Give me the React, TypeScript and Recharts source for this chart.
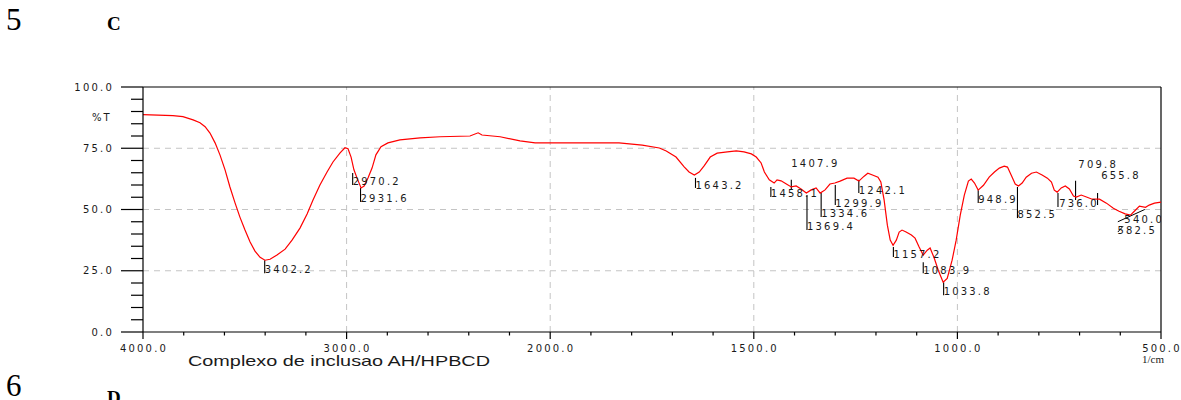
import React from 'react';
import { ComposedChart, Line, Scatter, XAxis, YAxis, ReferenceLine } from 'recharts';

// ---- spectrum (wavenumber, %T) ----
const wavenumbers = [
  4000, 3853, 3804, 3754, 3720, 3695, 3671, 3646, 3622, 3597, 3573, 3548, 3524, 3499, 3474, 3450, 3425, 3401,
  3376, 3342, 3302, 3268, 3229, 3194, 3165, 3131, 3096, 3067, 3032, 3008, 2993, 2978, 2964, 2949, 2929, 2914,
  2895, 2875, 2856, 2831, 2797, 2738, 2639, 2541, 2394, 2354, 2335, 2246, 2148, 2074, 2000, 1880, 1831, 1774,
  1732, 1715, 1691, 1671, 1659, 1646, 1634, 1622, 1607, 1590, 1565, 1543, 1524, 1506, 1494, 1482, 1474, 1462,
  1450, 1443, 1433, 1420, 1408, 1396, 1384, 1371, 1359, 1347, 1337, 1325, 1313, 1301, 1288, 1271, 1254, 1242,
  1229, 1220, 1207, 1195, 1188, 1180, 1172, 1165, 1158, 1150, 1143, 1136, 1126, 1113, 1104, 1094, 1084, 1074,
  1067, 1057, 1047, 1035, 1025, 1013, 1003, 993, 983, 973, 966, 958, 949, 936, 922, 909, 897, 885, 877, 868,
  858, 850, 841, 831, 818, 806, 792, 779, 769, 762, 755, 745, 735, 725, 715, 708, 696, 683, 669, 651, 634, 617,
  603, 588, 575, 563, 553, 538, 529, 516, 500,
];
const transmittance = [
  88.7, 88.3, 87.9, 86.6, 85.4, 83.8, 81.2, 77.2, 72.3, 66.2, 59.2, 52.7, 46.9, 41.6, 36.7, 33.0, 30.5, 29.3,
  29.7, 31.4, 33.8, 37.5, 42.4, 48.2, 53.9, 60.0, 65.3, 69.4, 73.1, 75.2, 74.8, 71.4, 66.2, 62.9, 58.8, 59.6,
  62.9, 66.9, 72.3, 75.6, 77.2, 78.4, 79.2, 79.7, 80.0, 81.3, 80.4, 79.7, 78.0, 77.2, 77.2, 77.2, 77.2, 76.3,
  75.1, 73.9, 71.4, 67.4, 65.3, 64.1, 65.3, 67.8, 71.4, 73.0, 73.5, 73.9, 73.5, 72.7, 71.4, 69.0, 65.3, 62.1,
  60.8, 62.1, 61.7, 60.4, 59.2, 59.6, 58.4, 56.7, 58.0, 58.8, 56.7, 58.0, 60.4, 60.8, 61.6, 62.8, 62.8, 61.6,
  63.6, 64.8, 64.0, 63.2, 61.2, 53.9, 43.6, 37.5, 35.4, 37.5, 40.8, 41.6, 40.8, 39.6, 38.3, 34.7, 31.4, 33.4,
  34.3, 30.2, 25.2, 20.3, 21.9, 29.3, 37.5, 47.7, 55.9, 61.6, 62.4, 60.8, 57.9, 59.9, 63.2, 65.3, 66.9, 67.7, 67.3, 64.1,
  60.4, 59.6, 60.8, 63.2, 64.8, 65.3, 64.1, 62.8, 61.2, 57.9, 57.1, 58.8, 59.6, 58.4, 55.5, 55.1, 55.9, 55.1, 54.2, 54.2, 52.6, 50.5,
  49.3, 48.2, 47.7, 49.7, 51.4, 50.9, 51.8, 52.6, 53.0,
];

// ---- peak annotations ----
const peakLabels = ['3402.2', '2970.2', '2931.6', '1643.2', '1458.1', '1407.9', '1369.4', '1334.6', '1299.9', '1242.1',
  '1157.2', '1083.9', '1033.8', '948.9', '852.5', '736.0', '709.8', '655.8', '540.0', '582.5'];
const peakLineW = [3402.2, 2970.2, 2931.6, 1643.2, 1458.1, 1407.9, 1369.4, 1334.6, 1299.9, 1242.1,
  1157.2, 1083.9, 1033.8, 948.9, 852.5, 753, 709.8, 655.8, null, null];
const peakLineTop = [29.3, 64.9, 58.8, 62.9, 59.2, 62.1, 55.9, 56.7, 60.0, 62.1, 34.7, 28.5, 20.3, 57.9, 59.2, 56.7, 61.7, 56.7, null, null];
const peakLineBottom = [24.0, 60.0, 53.1, 58.8, 55.1, 58.0, 41.6, 46.9, 51.8, 56.7, 30.6, 24.0, 15.0, 52.7, 46.5, 51.0, 53.9, 51.8, null, null];
const peakTextW = [3402.2, 2970.2, 2931.6, 1643.2, 1458.1, 1407.9, 1369.4, 1334.6, 1299.9, 1242.1,
  1157.2, 1083.9, 1033.8, 948.9, 852.5, 750, 703, 647, 590, 607];
const peakTextT = [25.4, 61.3, 54.3, 60.0, 56.7, 68.6, 43.2, 48.2, 52.6, 57.6, 31.8, 25.3, 16.7, 53.9, 47.8, 52.6, 68.2, 63.7, 46.1, 41.6];

// slanted leader lines (540.0, 582.5)
const slantFromW = [540, 593];
const slantFromT = [50.0, 43.2];
const slantToW = [606, 606];
const slantToT = [45.0, 40.8];

// ---- axes ----
const yTicks = [0, 5, 10, 15, 20, 25, 30, 35, 40, 45, 50, 55, 60, 65, 70, 75, 80, 85, 90, 95, 100];
const yLabelTicks = [0, 25, 50, 75, 100];
const xTickW = [4000, 3800, 3600, 3400, 3200, 3000, 2800, 2600, 2400, 2200, 2000, 1900, 1800, 1700, 1600, 1500,
  1400, 1300, 1200, 1100, 1000, 900, 800, 700, 600, 500];
const xLabelW = [4000, 3000, 2000, 1500, 1000, 500];
const gridW = [3000, 2000, 1500, 1000];
const gridT = [25, 50, 75];

// axis is compressed 2x above 2000 cm-1
const toU = (w: number) => (w > 2000 ? 2000 + (w - 2000) / 2 : w);
const fromU = (u: number) => (u > 2000 ? 2000 + (u - 2000) * 2 : u);

const curveRows = wavenumbers.map((w, i) => ({ u: toU(w), t: transmittance[i] }));
const labelRows = peakLabels.map((label, i) => ({ u: toU(peakTextW[i]), t: peakTextT[i], label }));

const FONT = '"DejaVu Sans", Verdana, sans-serif';
const txtStyle = { fontFamily: FONT, fontSize: 10, letterSpacing: 2.2, fill: '#1a1a1a' } as const;

const YTick = (props: any) => {
  const { x, y, payload } = props;
  const major = yLabelTicks.includes(payload.value);
  return (
    <g>
      <line x1={x - (major ? 22 : 12)} x2={x} y1={y} y2={y} stroke="#000" strokeWidth={1.2} />
      {major && (
        <text x={x - 29} y={y} dy="0.35em" textAnchor="end" style={txtStyle}>
          {payload.value.toFixed(1)}
        </text>
      )}
    </g>
  );
};

const XTick = (props: any) => {
  const { x, y, payload } = props;
  const w = fromU(payload.value);
  const major = xLabelW.includes(w);
  return (
    <g>
      <line x1={x} x2={x} y1={y} y2={y + (major ? 7 : 3.5)} stroke="#000" strokeWidth={1.2} />
      {major && (
        <text x={x + 1} y={y + 16} dy="0.35em" textAnchor="middle" style={txtStyle}>
          {w.toFixed(1)}
        </text>
      )}
    </g>
  );
};

const LabelShape = (props: any) => {
  const { cx, cy, payload } = props;
  return (
    <text x={cx} y={cy} dy="0.35em" style={txtStyle}>
      {payload.label}
    </text>
  );
};

export default function App() {
  return (
    <div style={{ position: 'absolute', left: 0, top: 0, width: 1181, height: 400, background: '#fff', overflow: 'hidden' }}>
      <ComposedChart
        width={1181}
        height={400}
        data={curveRows}
        margin={{ top: 87, right: 20, bottom: 38, left: 83 }}
      >
        <XAxis
          dataKey="u"
          type="number"
          domain={[500, 3000]}
          reversed
          ticks={xTickW.map(toU)}
          interval={0}
          tickSize={0}
          tickMargin={0}
          tick={<XTick />}
          axisLine={{ stroke: '#000', strokeWidth: 1.2 }}
          height={30}
          allowDataOverflow
        />
        <YAxis
          type="number"
          domain={[0, 100]}
          ticks={yTicks}
          interval={0}
          tickSize={0}
          tickMargin={0}
          tick={<YTick />}
          axisLine={{ stroke: '#000', strokeWidth: 1.2 }}
          width={60}
          allowDataOverflow
        />
        {gridT.map((t) => (
          <ReferenceLine key={'gy' + t} y={t} stroke="#c4c4c4" strokeDasharray="6 5" />
        ))}
        {gridW.map((w) => (
          <ReferenceLine key={'gx' + w} x={toU(w)} stroke="#c4c4c4" strokeDasharray="6 5" />
        ))}
        <ReferenceLine y={100} stroke="#000" strokeWidth={1.2} />
        <ReferenceLine x={500} stroke="#000" strokeWidth={1.2} />
        {peakLabels.map((l, i) =>
          peakLineW[i] == null ? null : (
            <ReferenceLine
              key={'pl' + l}
              segment={[
                { x: toU(peakLineW[i] as number), y: peakLineTop[i] as number },
                { x: toU(peakLineW[i] as number), y: peakLineBottom[i] as number },
              ]}
              stroke="#000"
              strokeWidth={1.1}
            />
          )
        )}
        {slantFromW.map((w, i) => (
          <ReferenceLine
            key={'sl' + i}
            segment={[
              { x: toU(w), y: slantFromT[i] },
              { x: toU(slantToW[i]), y: slantToT[i] },
            ]}
            stroke="#000"
            strokeWidth={1}
          />
        ))}
        <Line
          dataKey="t"
          type="linear"
          stroke="#ff0000"
          strokeWidth={1.2}
          dot={false}
          activeDot={false}
          isAnimationActive={false}
        />
        <Scatter data={labelRows} dataKey="t" shape={<LabelShape />} isAnimationActive={false} />
      </ComposedChart>
      <svg
        width={1181}
        height={400}
        style={{ position: 'absolute', left: 0, top: 0, pointerEvents: 'none' }}
      >
        <text x={6} y={30} style={{ fontFamily: '"Liberation Serif", "Times New Roman", serif', fontSize: 31 }}>5</text>
        <text x={107} y={30} style={{ fontFamily: '"Liberation Serif", "Times New Roman", serif', fontSize: 19, fontWeight: 700 }}>C</text>
        <text x={6} y={396} style={{ fontFamily: '"Liberation Serif", "Times New Roman", serif', fontSize: 31 }}>6</text>
        <text x={107} y={404} style={{ fontFamily: '"Liberation Serif", "Times New Roman", serif', fontSize: 19, fontWeight: 700 }}>D</text>
        <text x={92} y={117} dy="0.35em" style={{ ...txtStyle, letterSpacing: 2 }}>%T</text>
        <text
          x={188}
          y={366}
          textLength={302}
          lengthAdjust="spacingAndGlyphs"
          style={{ fontFamily: '"Liberation Sans", Arial, sans-serif', fontSize: 15, fill: '#1a1a1a' }}
        >
          Complexo de inclusao AH/HPBCD
        </text>
        <text x={1142} y={363} style={{ fontFamily: '"Liberation Serif", "Times New Roman", serif', fontSize: 11, fill: '#1a1a1a' }}>
          1/cm
        </text>
      </svg>
    </div>
  );
}
